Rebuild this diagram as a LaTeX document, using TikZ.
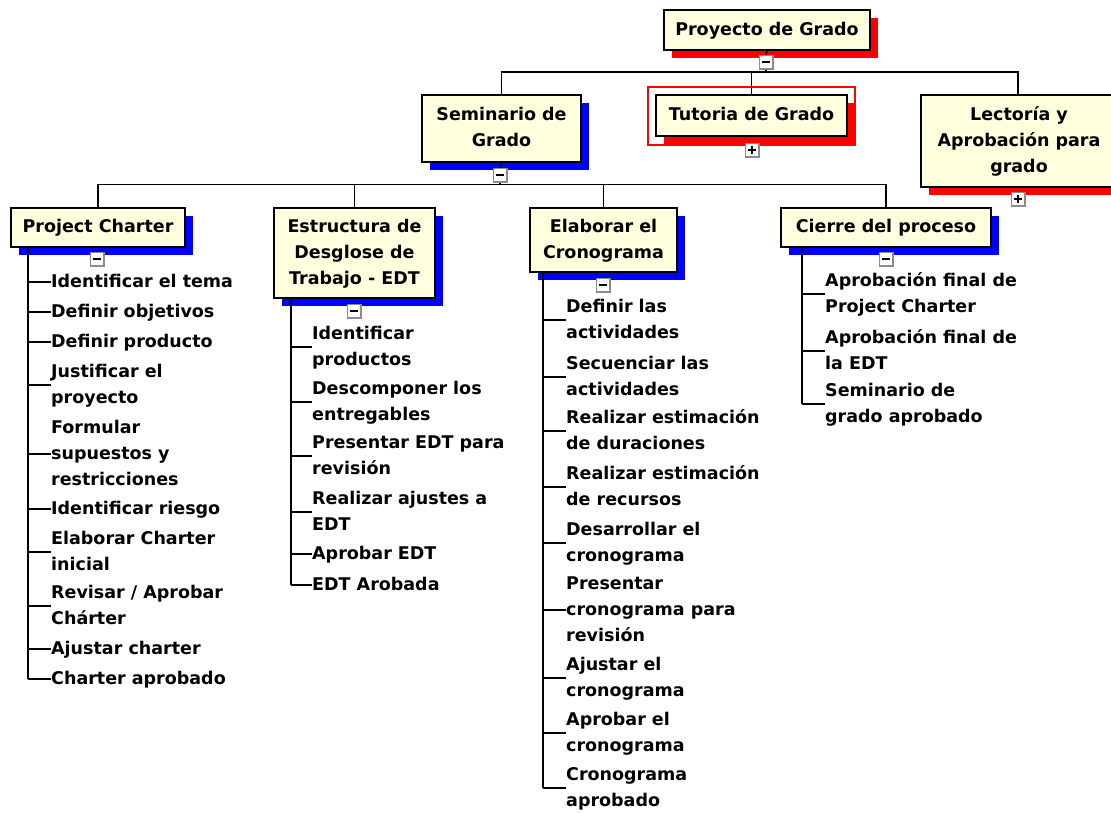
\documentclass[tikz,border=0pt]{standalone}
\usepackage{fontspec}
\setmainfont{DejaVu Sans}
\usetikzlibrary{calc}

\definecolor{boxfill}{RGB}{255,255,222}
\definecolor{togglegray}{RGB}{140,140,140}
\definecolor{shadowred}{RGB}{255,0,0}
\definecolor{shadowblue}{RGB}{0,0,255}

\newcommand\wbsfont{\fontsize{17.5}{26}\selectfont\bfseries}
\newcommand\clines[1]{\begin{tabular}{@{}c@{}}#1\end{tabular}}
\newcommand\llines[1]{\begin{tabular}{@{}l@{}}#1\end{tabular}}

\tikzset{
  wbsbox/.style={draw=black, line width=1.6pt, fill=boxfill, inner sep=0pt,
    font=\wbsfont, rectangle},
  redshadow/.style={preaction={fill=shadowred, transform canvas={shift={(8pt,-7.5pt)}}}},
  blueshadow/.style={preaction={fill=shadowblue, transform canvas={shift={(8pt,-7.5pt)}}}},
  toggle/.style={draw=togglegray, line width=1.5pt, fill=white, rectangle,
    minimum size=13.5pt, inner sep=0pt},
  tgminus/.style={toggle, path picture={
    \draw[black, line width=1.6pt]
      ([xshift=3.2pt]path picture bounding box.west) --
      ([xshift=-3.2pt]path picture bounding box.east);}},
  tgplus/.style={toggle, path picture={
    \draw[black, line width=1.6pt]
      ([xshift=3.2pt]path picture bounding box.west) --
      ([xshift=-3.2pt]path picture bounding box.east)
      ([yshift=-3.2pt]path picture bounding box.north) --
      ([yshift=3.2pt]path picture bounding box.south);}},
  link/.style={black, line width=1.5pt},
  task/.style={anchor=west, inner sep=0pt, font=\wbsfont},
}

\begin{document}
\begin{tikzpicture}[x=1pt, y=-1pt]
  \fill[white] (0,0) rectangle (1111,812);
  \useasboundingbox (0,0) rectangle (1111,812);

  % top level
  \node[wbsbox, redshadow, minimum width=206pt, minimum height=40pt] (root) at (767,30)
    {\clines{Proyecto de Grado}};
  \node[tgminus] (tg0) at (766,62) {};

  % second level
  \node[wbsbox, blueshadow, minimum width=159pt, minimum height=67pt] (sem) at (501.5,128.5)
    {\clines{Seminario de\\Grado}};
  \draw[shadowred, line width=1.3pt] (648,87) rectangle (855,145);
  \node[wbsbox, redshadow, minimum width=191pt, minimum height=41pt] (tut) at (751.5,115.5)
    {\clines{Tutoria de Grado}};
  \node[wbsbox, redshadow, minimum width=196pt, minimum height=92pt] (lec) at (1019,141)
    {\clines{Lectoría y\\Aprobación para\\grado}};
  \node[tgminus] (tgsem) at (500,175) {};
  \node[tgplus] (tgtut) at (752,150) {};
  \node[tgplus] (tglec) at (1018,199) {};

  % third level
  \node[wbsbox, blueshadow, minimum width=174pt, minimum height=39pt] (pc) at (98,227.5)
    {\clines{Project Charter}};
  \node[wbsbox, blueshadow, minimum width=161pt, minimum height=90pt] (edt) at (354.5,253)
    {\clines{Estructura de\\Desglose de\\Trabajo - EDT}};
  \node[wbsbox, blueshadow, minimum width=147pt, minimum height=64pt] (cro) at (603.5,240)
    {\clines{Elaborar el\\Cronograma}};
  \node[wbsbox, blueshadow, minimum width=210pt, minimum height=39pt] (cie) at (886,227.5)
    {\clines{Cierre del proceso}};
  \node[tgminus] (tgpc) at (97,259) {};
  \node[tgminus] (tgedt) at (354,311) {};
  \node[tgminus] (tgcro) at (603,285) {};
  \node[tgminus] (tgcie) at (886,259) {};

  % connectors between levels
  \coordinate (bus1) at (766,72);
  \draw[link] (root.south) -- (tg0.north);
  \draw[link] (tg0.south) -- (bus1);
  \draw[link] (sem.north) |- (bus1);
  \draw[link] (tut.north) |- (bus1);
  \draw[link] (lec.north -| tglec) |- (bus1);

  \coordinate (bus2) at (500,184.5);
  \draw[link] (sem.south) -- (tgsem.north);
  \draw[link] (tgsem.south) -- (bus2);
  \draw[link] (pc.north) |- (bus2);
  \draw[link] (edt.north) |- (bus2);
  \draw[link] (cro.north) |- (bus2);
  \draw[link] (cie.north) |- (bus2);

  % Project Charter tasks
  \coordinate (pcv) at (28,248);
  \foreach \nm/\y/\t in {
      pc1/282/{Identificar el tema},
      pc2/312/{Definir objetivos},
      pc3/342/{Definir producto},
      pc4/385/{Justificar el\\proyecto},
      pc5/454/{Formular\\supuestos y\\restricciones},
      pc6/509/{Identificar riesgo},
      pc7/552/{Elaborar Charter\\inicial},
      pc8/606/{Revisar / Aprobar\\Chárter},
      pc9/649/{Ajustar charter},
      pc10/679/{Charter aprobado}} {
    \node[task] (\nm) at (51,\y) {\llines{\t}};
    \draw[link] (\nm.west -| pcv) -- (\nm.west);
  }
  \draw[link] (pcv) -- (pcv |- pc10.west);

  % EDT tasks
  \coordinate (edtv) at (291,299);
  \foreach \nm/\y/\t in {
      edt1/347/{Identificar\\productos},
      edt2/402/{Descomponer los\\entregables},
      edt3/456/{Presentar EDT para\\revisión},
      edt4/512/{Realizar ajustes a\\EDT},
      edt5/554/{Aprobar EDT},
      edt6/585/{EDT Arobada}} {
    \node[task] (\nm) at (312,\y) {\llines{\t}};
    \draw[link] (\nm.west -| edtv) -- (\nm.west);
  }
  \draw[link] (edtv) -- (edtv |- edt6.west);

  % schedule tasks
  \coordinate (crov) at (543,273);
  \foreach \nm/\y/\t in {
      cro1/320/{Definir las\\actividades},
      cro2/377/{Secuenciar las\\actividades},
      cro3/431/{Realizar estimación\\de duraciones},
      cro4/487/{Realizar estimación\\de recursos},
      cro5/543/{Desarrollar el\\cronograma},
      cro6/610/{Presentar\\cronograma para\\revisión},
      cro7/678/{Ajustar el\\cronograma},
      cro8/733/{Aprobar el\\cronograma},
      cro9/788/{Cronograma\\aprobado}} {
    \node[task] (\nm) at (566,\y) {\llines{\t}};
    \draw[link] (\nm.west -| crov) -- (\nm.west);
  }
  \draw[link] (crov) -- (crov |- cro9.west);

  % closing tasks
  \coordinate (ciev) at (802,248);
  \foreach \nm/\y/\t in {
      cie1/294/{Aprobación final de\\Project Charter},
      cie2/351/{Aprobación final de\\la EDT},
      cie3/404/{Seminario de\\grado aprobado}} {
    \node[task] (\nm) at (825,\y) {\llines{\t}};
    \draw[link] (\nm.west -| ciev) -- (\nm.west);
  }
  \draw[link] (ciev) -- (ciev |- cie3.west);
\end{tikzpicture}
\end{document}
